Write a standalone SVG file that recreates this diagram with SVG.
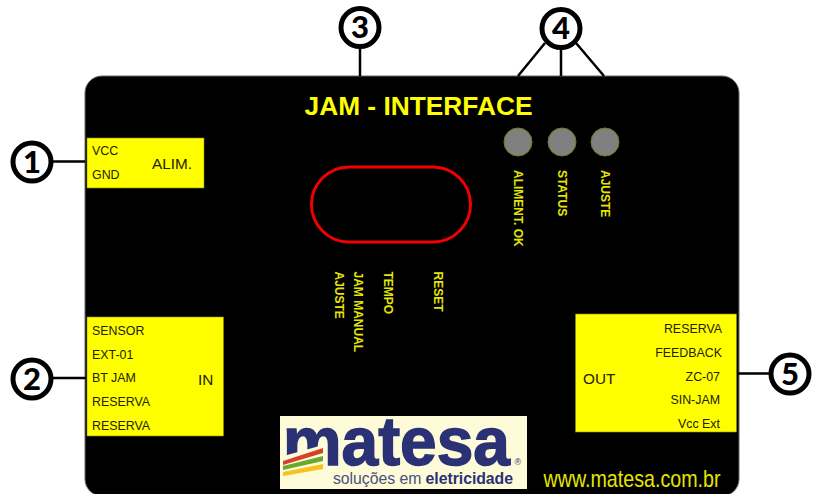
<svg xmlns="http://www.w3.org/2000/svg" width="819" height="494" viewBox="0 0 819 494">
<style>
text{font-family:"Liberation Sans",Arial,sans-serif}
.y{fill:#ffff00;stroke:#8a8a00;stroke-width:.6}
.l{font-size:12.4px;fill:#222200}
.h{font-size:15.300px;fill:#222200}
.v{font-size:12px;font-weight:bold;fill:#e6e600}
.n{fill:#fff;stroke:#000;stroke-width:5}
.t{font-family:"Lato","Liberation Sans",sans-serif;font-size:31px;font-weight:900;fill:#000;text-anchor:middle}
.c{stroke:#000;stroke-width:2.5;fill:none}
.led{fill:#808080;stroke:#77771a;stroke-width:1}
</style>
<g id="panel">
<rect x="85" y="76" width="654" height="420" rx="17" fill="#000" stroke="#666" stroke-width="1"/>
<text x="418.500" y="115" font-size="26.300" font-weight="bold" fill="#ffff00" text-anchor="middle">JAM - INTERFACE</text>
<text x="632" y="487" font-size="24" fill="#e6e600" text-anchor="middle" textLength="177" lengthAdjust="spacingAndGlyphs">www.matesa.com.br</text>
</g>
<g id="connectors">
<path class="c" d="M52 161.500H85M52 378H87M360 46V76M545 43L518 76M561 47V76M576 43L604 76M737 373.500H772"/>
</g>
<g id="alim">
<rect class="y" x="87" y="138" width="117" height="50"/>
<text class="l" x="92" y="155">VCC</text>
<text class="l" x="92" y="179">GND</text>
<text class="h" x="152" y="169">ALIM.</text>
</g>
<g id="in">
<rect class="y" x="87" y="317" width="136.500" height="119"/>
<text class="l" x="92" y="335">SENSOR</text>
<text class="l" x="92" y="359">EXT-01</text>
<text class="l" x="92" y="382">BT JAM</text>
<text class="l" x="92" y="406">RESERVA</text>
<text class="l" x="92" y="430">RESERVA</text>
<text class="h" x="198" y="385">IN</text>
</g>
<g id="out">
<rect class="y" x="575.500" y="314" width="161" height="118"/>
<g text-anchor="end">
<text class="l" x="722" y="333">RESERVA</text>
<text class="l" x="722" y="357">FEEDBACK</text>
<text class="l" x="720" y="381">ZC-07</text>
<text class="l" x="720" y="404">SIN-JAM</text>
<text class="l" x="720" y="428">Vcc Ext</text>
</g>
<text class="h" x="583" y="384">OUT</text>
</g>
<g id="leds">
<circle class="led" cx="518" cy="142" r="14"/>
<circle class="led" cx="562" cy="142" r="14"/>
<circle class="led" cx="605" cy="142" r="14"/>
<text class="v" transform="translate(513.500 170) rotate(90)">ALIMENT. OK</text>
<text class="v" transform="translate(557.500 170) rotate(90)">STATUS</text>
<text class="v" transform="translate(601 170) rotate(90)">AJUSTE</text>
</g>
<g id="display">
<rect x="311.500" y="167" width="159" height="75" rx="37.500" fill="none" stroke="#f00000" stroke-width="3"/>
<text class="v" transform="translate(433.500 271.500) rotate(90)">RESET</text>
<text class="v" transform="translate(383.500 271.500) rotate(90)">TEMPO</text>
<text class="v" transform="translate(353.500 271.500) rotate(90)">JAM MANUAL</text>
<text class="v" transform="translate(334.500 271.500) rotate(90)">AJUSTE</text>
</g>
<g id="logo">
<rect x="280" y="416" width="247" height="73" fill="#fdfbd8"/>
<text x="283" y="465" font-family="'Open Sans','Liberation Sans',sans-serif" font-size="69" font-weight="bold" fill="#2b3175" stroke="#2b3175" stroke-width="1.500" textLength="227" lengthAdjust="spacingAndGlyphs">matesa</text>
<path d="M280 457L323 445V468H280Z" fill="#fdfbd8"/>
<path d="M283 461L323 448V453L283 465Z" fill="#d8402a"/>
<path d="M283 466L323 456V461L283 470Z" fill="#6aa82e"/>
<path d="M283 472L323 464V469L283 476Z" fill="#f5c31c"/>
<text x="514.500" y="465" font-size="9" fill="#2b3175">®</text>
<text x="333" y="484" font-size="15.800" fill="#4a5080" textLength="180">soluções em <tspan font-weight="bold" fill="#2b3175">eletricidade</tspan></text>
</g>
<g id="n1"><circle class="n" cx="32" cy="162" r="19"/><text class="t" x="32" y="172.500">1</text></g>
<g id="n2"><circle class="n" cx="32" cy="379" r="19"/><text class="t" x="32" y="389.500">2</text></g>
<g id="n3"><circle class="n" cx="360" cy="27.500" r="19"/><text class="t" x="360" y="38">3</text></g>
<g id="n4"><circle class="n" cx="561" cy="28.500" r="19"/><text class="t" x="561" y="39">4</text></g>
<g id="n5"><circle class="n" cx="790" cy="374" r="19"/><text class="t" x="790" y="384.500">5</text></g>
</svg>
